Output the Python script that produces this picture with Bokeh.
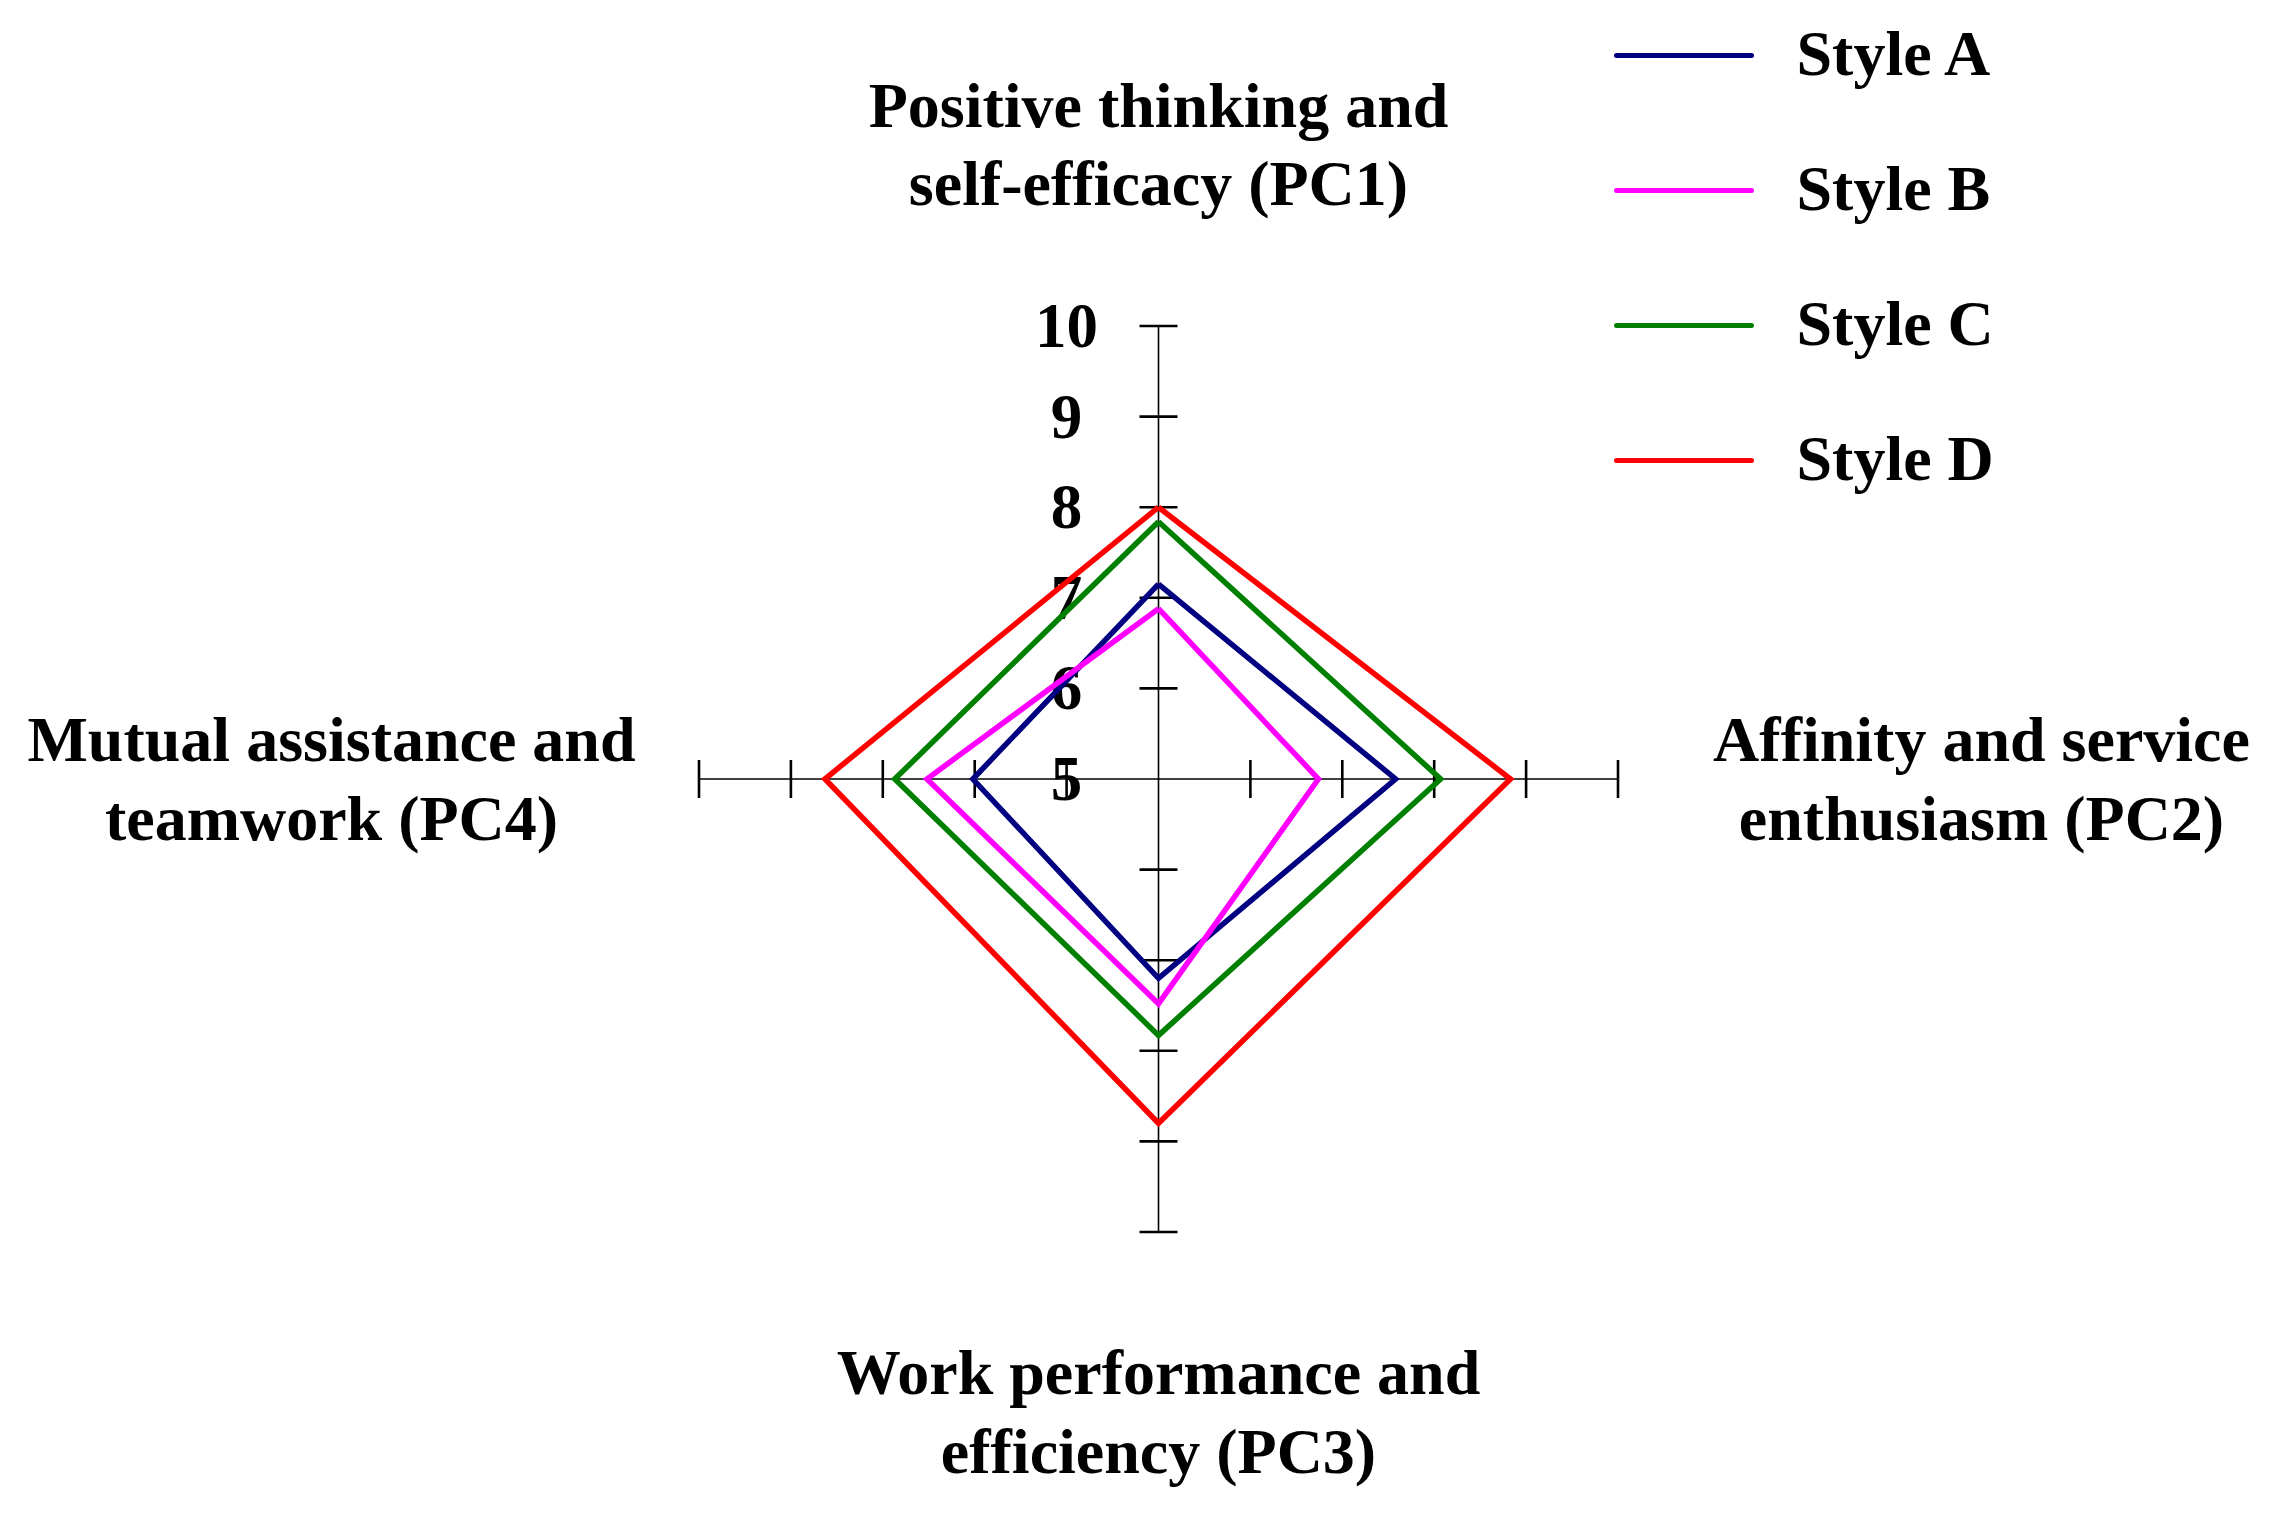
import math
from bokeh.plotting import figure
from bokeh.models import Range1d
from bokeh.core.properties import value
from bokeh.embed import file_html
from bokeh.resources import INLINE

# ---------------- data ----------------
axes_names = ["PC1", "PC2", "PC3", "PC4"]
axis_labels = [
    ["Positive thinking and", "self-efficacy (PC1)"],
    ["Affinity and service", "enthusiasm (PC2)"],
    ["Work performance and", "efficiency (PC3)"],
    ["Mutual assistance and", "teamwork (PC4)"],
]
series_names = ["Style A", "Style B", "Style C", "Style D"]
style_a = [7.15, 7.58, 7.20, 7.02]
style_b = [6.88, 6.74, 7.48, 7.52]
style_c = [7.84, 8.07, 7.83, 7.87]
style_d = [8.00, 8.83, 8.80, 8.63]
series_values = [style_a, style_b, style_c, style_d]
series_colors = ["#000080", "#FF00FF", "#008000", "#FF0000"]
tick_values = [5, 6, 7, 8, 9, 10]
tick_labels = ["5", "6", "7", "8", "9", "10"]
r_min, r_max = 5, 10

# ---------------- layout ----------------
W, H = 2253, 1506
CX, CY = 1158, 778.5          # centre in page pixels
UX, UY = 91.9, 90.6           # pixels per unit horizontally / vertically
FONT = value("Liberation Serif")
# direction of each axis: up, right, down, left (screen y grows downward)
dirs = [(0, -1), (1, 0), (0, 1), (-1, 0)]


def pt(i, v):
    dx, dy = dirs[i]
    r = v - r_min
    return CX + dx * r * UX, CY + dy * r * UY


p = figure(width=W, height=H, output_backend="svg", toolbar_location=None,
           x_range=Range1d(0, W), y_range=Range1d(H, 0),
           x_axis_type=None, y_axis_type=None, min_border=0)
p.outline_line_color = None
p.xgrid.visible = False
p.ygrid.visible = False
p.background_fill_color = "white"
p.border_fill_color = "white"

# axis spokes
for i in range(4):
    x0, y0 = pt(i, r_min)
    x1, y1 = pt(i, r_max)
    p.line([x0, x1], [y0, y1], line_color="black", line_width=1.6)
    # tick marks
    for tv in tick_values[1:]:
        tx, ty = pt(i, tv)
        half = 19
        if dirs[i][0] == 0:
            p.line([tx - half, tx + half], [ty, ty], line_color="black", line_width=2.6)
        else:
            p.line([tx, tx], [ty - half, ty + half], line_color="black", line_width=2.6)

# tick labels along the top axis
lab_x = [CX - 92] * len(tick_values)
lab_y = [pt(0, tv)[1] for tv in tick_values]
p.text(x=lab_x, y=lab_y, text=tick_labels, text_font=FONT, text_font_style="bold",
       text_font_size="63px", text_align="center", text_baseline="middle", text_color="black")

# series polygons
for vals, col, name in zip(series_values, series_colors, series_names):
    xs, ys = [], []
    for i, v in enumerate(vals):
        x, y = pt(i, v)
        xs.append(x)
        ys.append(y)
    xs.append(xs[0])
    ys.append(ys[0])
    p.line(xs, ys, line_color=col, line_width=5.5, line_join="miter")

# axis category labels
label_pos = [
    (1158, [105, 183]),
    (1981, [739, 818]),
    (1158, [1372, 1451]),
    (331, [739, 818]),
]
for (lx, lys), lines in zip(label_pos, axis_labels):
    p.text(x=[lx] * len(lines), y=lys, text=lines, text_font=FONT, text_font_style="bold",
           text_font_size="64px", text_align="center", text_baseline="middle", text_color="black")

# legend
leg_y = [55, 190, 325, 460]
for ly, col, name in zip(leg_y, series_colors, series_names):
    p.line([1616, 1751], [ly, ly], line_color=col, line_width=5, line_cap="round")
p.text(x=[1796] * 4, y=[y - 2 for y in leg_y], text=series_names, text_font=FONT,
       text_font_style="bold", text_font_size="64px", text_align="left",
       text_baseline="middle", text_color="black")

open("out.html", "w").write(file_html(p, INLINE))
